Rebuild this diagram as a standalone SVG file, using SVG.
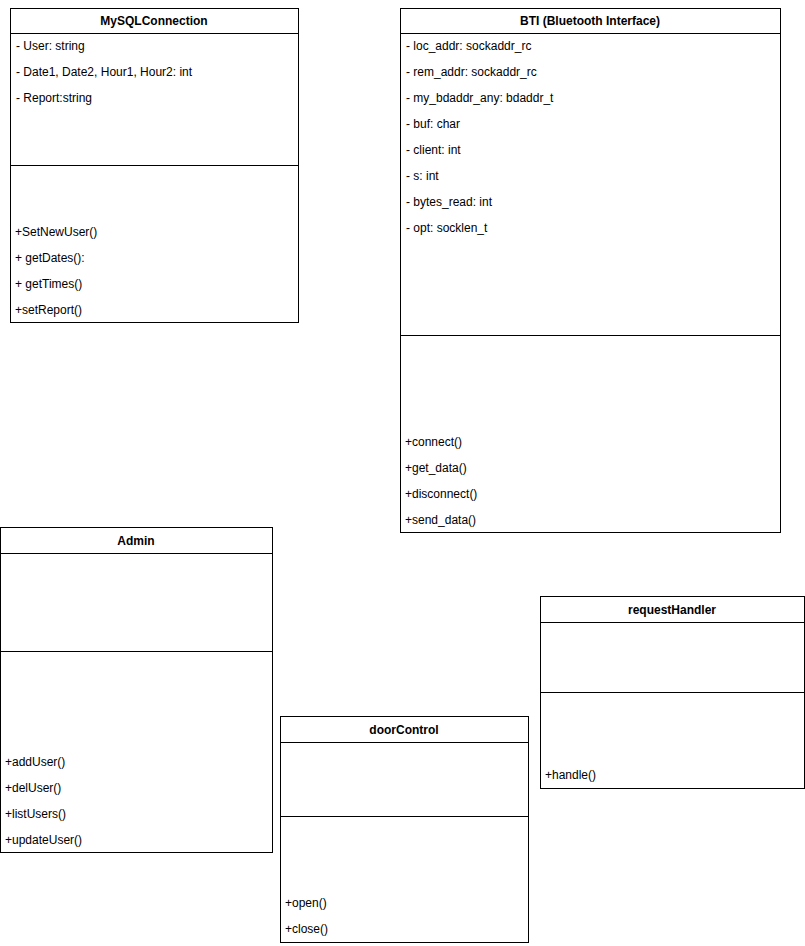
<svg xmlns="http://www.w3.org/2000/svg" width="805" height="946" viewBox="0 0 805 946">
<style>
.box{fill:#fff;stroke:#000;stroke-width:1}
.ln{stroke:#000;stroke-width:1}
.t{font-family:"Liberation Sans",Arial,sans-serif;font-size:12px;font-weight:bold;text-anchor:middle;fill:#000}
.m{font-family:"Liberation Sans",Arial,sans-serif;font-size:12px;fill:#000}
</style>
<rect width="805" height="946" fill="#fff"/>
<g id="MySQLConnection">
<rect class="box" x="10.5" y="8.5" width="288" height="314"/>
<line class="ln" x1="10.5" y1="33.5" x2="298.5" y2="33.5"/>
<line class="ln" x1="10.5" y1="165.5" x2="298.5" y2="165.5"/>
<text class="t" x="154" y="25">MySQLConnection</text>
<text class="m" x="16" y="50">- User: string</text>
<text class="m" x="16" y="76">- Date1, Date2, Hour1, Hour2: int</text>
<text class="m" x="16" y="102">- Report:string</text>
<text class="m" x="15" y="236">+SetNewUser()</text>
<text class="m" x="15" y="262">+ getDates():</text>
<text class="m" x="15" y="288">+ getTimes()</text>
<text class="m" x="15" y="314">+setReport()</text>
</g>
<g id="BTI">
<rect class="box" x="400.5" y="8.5" width="380" height="524"/>
<line class="ln" x1="400.5" y1="33.5" x2="780.5" y2="33.5"/>
<line class="ln" x1="400.5" y1="335.5" x2="780.5" y2="335.5"/>
<text class="t" x="590" y="25">BTI (Bluetooth Interface)</text>
<text class="m" x="406" y="50">- loc_addr: sockaddr_rc</text>
<text class="m" x="406" y="76">- rem_addr: sockaddr_rc</text>
<text class="m" x="406" y="102">- my_bdaddr_any: bdaddr_t</text>
<text class="m" x="406" y="128">- buf: char</text>
<text class="m" x="406" y="154">- client: int</text>
<text class="m" x="406" y="180">- s: int</text>
<text class="m" x="406" y="206">- bytes_read: int</text>
<text class="m" x="406" y="232">- opt: socklen_t</text>
<text class="m" x="405" y="446">+connect()</text>
<text class="m" x="405" y="472">+get_data()</text>
<text class="m" x="405" y="498">+disconnect()</text>
<text class="m" x="405" y="524">+send_data()</text>
</g>
<g id="Admin">
<rect class="box" x="0.5" y="527.5" width="272" height="325"/>
<line class="ln" x1="0.5" y1="553.5" x2="272.5" y2="553.5"/>
<line class="ln" x1="0.5" y1="651.5" x2="272.5" y2="651.5"/>
<text class="t" x="136" y="545">Admin</text>
<text class="m" x="5" y="766">+addUser()</text>
<text class="m" x="5" y="792">+delUser()</text>
<text class="m" x="5" y="818">+listUsers()</text>
<text class="m" x="5" y="844">+updateUser()</text>
</g>
<g id="requestHandler">
<rect class="box" x="540.5" y="596.5" width="264" height="192"/>
<line class="ln" x1="540.5" y1="622.5" x2="804.5" y2="622.5"/>
<line class="ln" x1="540.5" y1="692.5" x2="804.5" y2="692.5"/>
<text class="t" x="672" y="614">requestHandler</text>
<text class="m" x="545" y="779">+handle()</text>
</g>
<g id="doorControl">
<rect class="box" x="280.5" y="716.5" width="248" height="226"/>
<line class="ln" x1="280.5" y1="742.5" x2="528.5" y2="742.5"/>
<line class="ln" x1="280.5" y1="816.5" x2="528.5" y2="816.5"/>
<text class="t" x="404" y="734">doorControl</text>
<text class="m" x="285" y="907">+open()</text>
<text class="m" x="285" y="933">+close()</text>
</g>
<g id="connectors"></g>
</svg>
